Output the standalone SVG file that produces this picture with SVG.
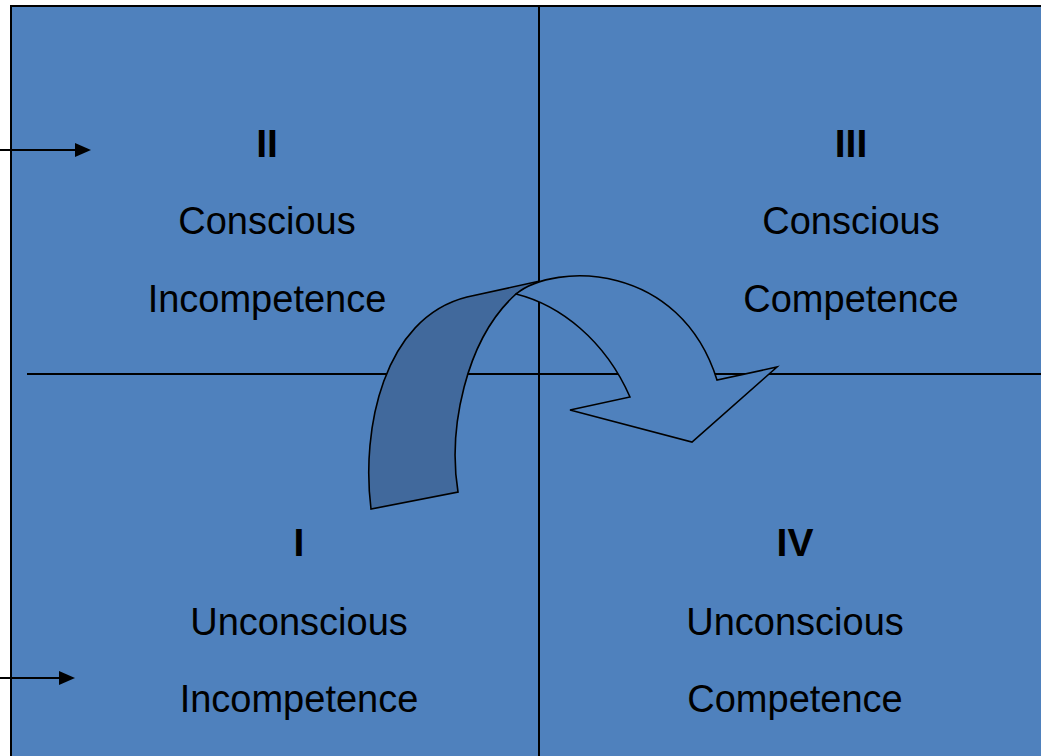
<svg xmlns="http://www.w3.org/2000/svg" width="1041" height="756" viewBox="0 0 1041 756">
<style>
.lbl{font-family:"Liberation Sans",Arial,sans-serif;font-size:38px;fill:#000;text-anchor:middle}
.num{font-family:"Liberation Sans",Arial,sans-serif;font-size:39px;font-weight:bold;fill:#000;text-anchor:middle}
.ln{stroke:#000;stroke-width:2;fill:none}
.arr{stroke:#000;stroke-width:1.6;stroke-linejoin:miter}
</style>
<rect x="0" y="0" width="1041" height="756" fill="#ffffff"/>
<g id="grid">
<rect x="11" y="6" width="1032" height="752" fill="#4F81BD"/>
<path class="ln" d="M11,5 V756 M10,6 H1041"/>
<path class="ln" d="M539,6 V756 M27,374 H1041"/>
</g>
<g id="connectors">
<path class="ln" d="M0,150 H76"/>
<polygon points="75,143 91,150 75,157" fill="#000"/>
<path class="ln" d="M0,678 H60"/>
<polygon points="59,671 75,678 59,685" fill="#000"/>
</g>
<g id="curved-arrow">
<path class="arr" fill="#41699C" d="M371,509 C361,430 383,318 467,297 L540,281 L516,294 C465,340 448,430 458,492 Z"/>
<path class="arr" fill="#4F81BD" d="M516,294 C555,262 680,262 717,380 L777,367 L692,442 L570,410 L630,397 C605,340 560,305 516,294 Z"/>
</g>
<g id="q2">
<text class="num" x="267" y="157">II</text>
<text class="lbl" x="267" y="234">Conscious</text>
<text class="lbl" x="267" y="312">Incompetence</text>
</g>
<g id="q3">
<text class="num" x="851" y="157">III</text>
<text class="lbl" x="851" y="234">Conscious</text>
<text class="lbl" x="851" y="312">Competence</text>
</g>
<g id="q1">
<text class="num" x="299" y="556">I</text>
<text class="lbl" x="299" y="635">Unconscious</text>
<text class="lbl" x="299" y="712">Incompetence</text>
</g>
<g id="q4">
<text class="num" x="795" y="556">IV</text>
<text class="lbl" x="795" y="635">Unconscious</text>
<text class="lbl" x="795" y="712">Competence</text>
</g>
</svg>
